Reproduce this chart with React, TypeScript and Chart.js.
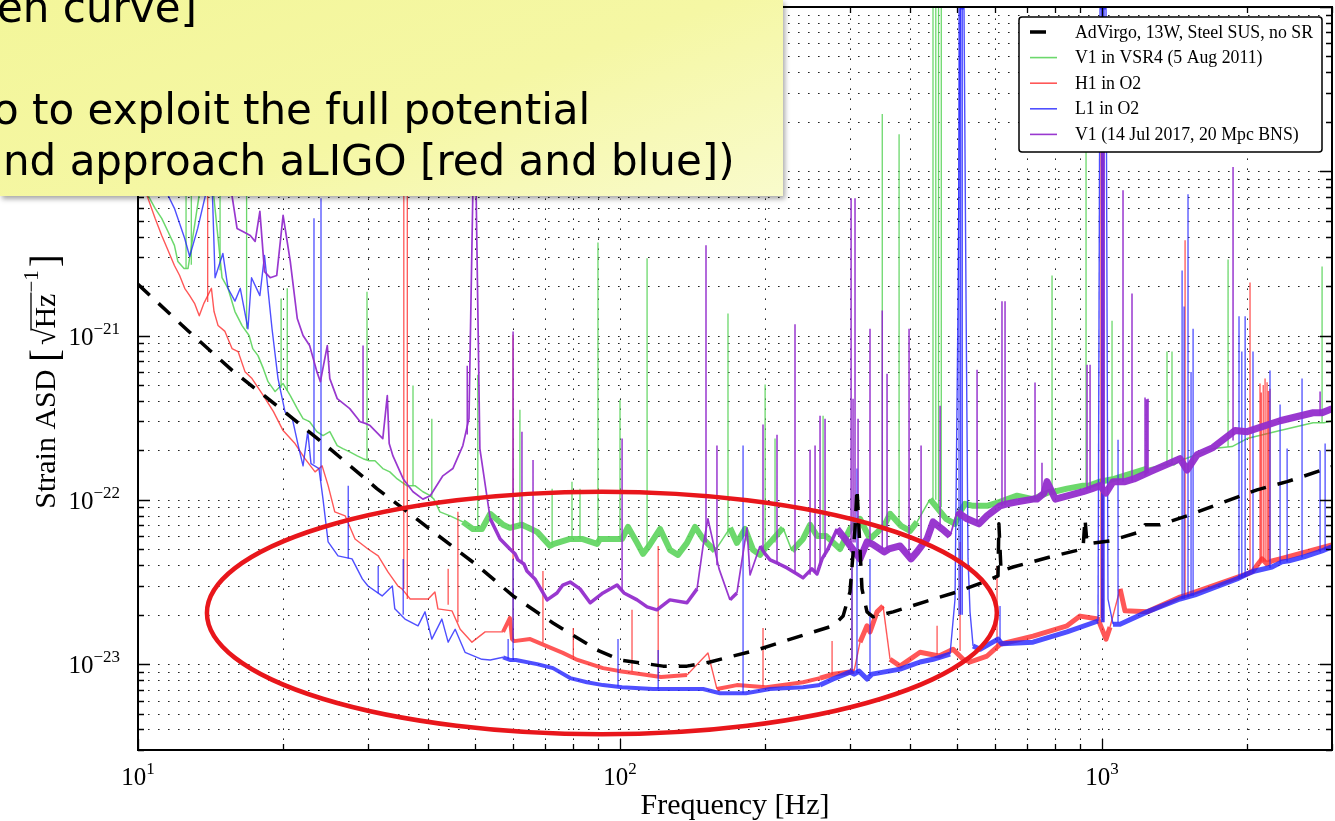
import React, { useEffect, useRef } from "react";
import { Chart, registerables } from "chart.js";

Chart.register(...registerables);

type Pt = [number, number];
type Spike = [number, number, number]; // frequency, foot, peak

// ---------- axes ----------
const freqRange: [number, number] = [10, 3000];
const asdRange: [number, number] = [3e-24, 1e-19];
const xDecades = [10, 100, 1000];
const yDecades = [1e-24, 1e-23, 1e-22, 1e-21, 1e-20, 1e-19];
const minorSteps = [1, 2, 3, 4, 5, 6, 7, 8, 9];
const xLabelValues = [10, 100, 1000];
const xLabelExps = ["1", "2", "3"];
const yLabelValues = [1e-23, 1e-22, 1e-21, 1e-20];
const yLabelExps = ["\u221223", "\u221222", "\u221221", "\u221220"];
const xTitle = "Frequency [Hz]";

// ---------- series (frequency Hz, strain ASD) ----------
const seriesLabels = [
  "AdVirgo, 13W, Steel SUS, no SR",
  "V1 in VSR4 (5 Aug 2011)",
  "H1 in O2",
  "L1 in O2",
  "V1 (14 Jul 2017, 20 Mpc BNS)",
];

const adVirgo: Pt[] = [
  [10, 2.05e-21], [12.7, 1.07e-21], [15.7, 6.12e-22], [20, 3.49e-22], [25, 2.05e-22], [31.3, 1.17e-22],
  [40, 6.75e-23], [50.7, 3.96e-23], [60, 2.6e-23], [72.6, 1.78e-23], [89.6, 1.22e-23], [100, 1.06e-23],
  [122.8, 9.72e-24], [137.7, 9.72e-24], [153.7, 1.03e-23], [192.4, 1.22e-23], [239.7, 1.5e-23],
  [276.7, 1.71e-23], [290.3, 1.96e-23], [300, 2.75e-23], [307.3, 6.65e-23], [310.2, 1.17e-22],
  [313.2, 6.65e-23], [317.7, 2.87e-23], [325.4, 2.08e-23], [334.9, 1.94e-23], [368.6, 2.08e-23],
  [433.5, 2.42e-23], [500.4, 2.75e-23], [577.4, 3.21e-23], [608.4, 3.44e-23], [611, 7.14e-23],
  [617.3, 3.69e-23], [653.8, 3.9e-23], [780, 4.49e-23], [913.2, 5.02e-23], [921.9, 7.66e-23],
  [930.9, 5.39e-23], [1039, 5.62e-23], [1199, 6.38e-23], [1228, 7.05e-23], [1319, 7.05e-23],
  [1501, 7.99e-23], [1817, 9.86e-23], [2097, 1.15e-22], [2421, 1.29e-22], [3000, 1.59e-22],
];

const v1Vsr4: Pt[] = [
  [10, 1.38e-20], [10.49, 7.14e-21], [10.85, 5.95e-21], [11.2, 5.17e-21], [11.54, 4.3e-21], [11.9, 3.54e-21],
  [12.1, 2.82e-21], [12.46, 2.56e-21], [12.7, 2.56e-21], [13.4, 7.24e-21], [14.1, 1.2e-20], [14.66, 3.9e-21],
  [14.94, 2.25e-21], [15.37, 1.94e-21], [15.89, 1.4e-21], [16.44, 1.15e-21], [17.0, 1e-21], [17.3, 8.33e-22],
  [17.74, 7.55e-22], [18.2, 6.29e-22], [18.61, 5.24e-22], [19.25, 4.56e-22], [20, 5.1e-22], [20.7, 4.31e-22],
  [21.4, 3.59e-22], [22.0, 3.12e-22], [22.7, 2.99e-22], [23.5, 2.6e-22], [24.2, 2.46e-22], [25.0, 2.6e-22],
  [25.9, 2.14e-22], [26.6, 2.05e-22], [27.5, 1.96e-22], [28.5, 1.85e-22], [29.3, 1.78e-22], [30.15, 1.73e-22],
  [31.02, 1.73e-22], [32.2, 1.55e-22], [33.3, 1.48e-22], [34.5, 1.34e-22], [36.1, 1.22e-22], [37.55, 1.22e-22],
  [39.0, 1.12e-22], [40.4, 1.06e-22], [41.1, 1.01e-22], [42.3, 8.45e-23], [44.4, 7.99e-23], [47.2, 7.34e-23],
  [49.5, 6.65e-23], [51.7, 6.65e-23], [53.8, 8.22e-23], [57.2, 7.05e-23], [59.1, 6.75e-23], [62.6, 7.05e-23],
  [67.3, 6.38e-23], [71.6, 5.24e-23], [72.95, 5.39e-23], [78.8, 5.78e-23], [80.66, 5.78e-23], [83.4, 5.78e-23],
  [89.6, 5.39e-23], [90.9, 5.78e-23], [101, 5.78e-23], [103.9, 6.84e-23], [108.5, 5.47e-23], [111.6, 4.69e-23],
  [114.9, 5.24e-23], [121.1, 6.65e-23], [126.9, 4.96e-23], [131.9, 4.62e-23], [137.7, 5.47e-23], [143.1, 6.84e-23],
  [148.7, 5.78e-23], [157.4, 4.89e-23], [169.1, 6.75e-23], [174.8, 5.47e-23], [181.7, 6.65e-23], [188.8, 4.96e-23],
  [195.2, 4.62e-23], [201.8, 5.24e-23], [217.9, 6.75e-23], [227.4, 4.89e-23], [239.7, 5.78e-23], [247.9, 7.05e-23],
  [256.3, 6.03e-23], [267.6, 6.03e-23], [286.1, 5.02e-23], [300, 6.65e-23], [314.7, 7.66e-23], [330.1, 5.78e-23],
  [353.1, 6.94e-23], [363.3, 8.22e-23], [382.8, 6.94e-23], [399.7, 6.47e-23], [413.3, 7.34e-23], [439.8, 1.01e-22],
  [474.8, 7.66e-23], [495.5, 7.14e-23], [507.6, 8.45e-23], [519.8, 9.45e-23], [540.1, 9.19e-23], [577.4, 9.19e-23],
  [614.3, 9.72e-23], [666.4, 1.06e-22], [719.2, 1.01e-22], [780, 1.12e-22], [795.2, 1.12e-22], [846.1, 1.17e-22],
  [913.2, 1.22e-22], [939.8, 1.22e-22], [990.6, 1.29e-22], [1059, 1.34e-22], [1240, 1.55e-22], [1384, 1.66e-22],
  [1411, 1.63e-22], [1451, 1.73e-22], [1699, 2.05e-22], [1861, 2.11e-22], [2000, 2.36e-22], [2341, 2.64e-22],
  [2741, 2.95e-22], [2888, 2.95e-22], [3000, 3.03e-22],
];
const v1Vsr4Lines: Spike[] = [
  [12.58, 2.56e-21, 1.38e-20], [12.9, 2.7e-21, 2e-20], [14.8, 2.5e-21, 3e-20], [16.8, 1.1e-21, 7.5e-21],
  [19.81, 4.8e-22, 1.68e-21], [20.4, 4.6e-22, 1.94e-21], [29.86, 1.75e-22, 1.85e-21], [37.2, 1.22e-22, 4.96e-22],
  [40.7, 1.03e-22, 3.12e-22], [50.7, 6.65e-23, 5.78e-22], [62.0, 6.9e-23, 3.54e-22], [72.3, 5.3e-23, 1.17e-22],
  [79.5, 5.78e-23, 1.29e-22], [82.6, 5.78e-23, 1.17e-22], [90, 5.5e-23, 3.69e-21], [100, 5.78e-23, 4.07e-22],
  [113.8, 5e-23, 2.95e-21], [167.5, 6e-23, 1.36e-21], [200, 5e-23, 5.03e-22], [209.7, 5.5e-23, 2.36e-22],
  [263.8, 6.03e-23, 3.25e-22], [350, 6.5e-23, 2.23e-20], [379.3, 7e-23, 1.68e-20], [446, 1e-22, 1e-19],
  [452, 1e-22, 1e-19], [458, 9e-23, 1e-19], [464, 9e-23, 1e-19], [787.6, 1.12e-22, 2.32e-21],
  [926.5, 1.22e-22, 7.45e-20], [1049, 1.3e-22, 1.23e-21], [1364, 1.6e-22, 7.99e-22], [1397, 1.65e-22, 7.99e-22],
  [1826, 2.1e-22, 2.9e-21], [2861, 2.95e-22, 2.63e-21],
];

const h1O2: Pt[] = [
  [10, 1.04e-20], [10.49, 6.84e-21], [10.85, 5.17e-21], [11.2, 4.07e-21], [11.5, 3.39e-21], [11.9, 2.67e-21],
  [12.2, 2.32e-21], [12.5, 1.94e-21], [12.8, 1.75e-21], [13.1, 1.57e-21], [13.4, 1.32e-21], [13.7, 1.57e-21],
  [14.2, 1.94e-21], [14.38, 1.4e-21], [14.66, 1.15e-21], [15.15, 1.06e-21], [15.67, 8.33e-22], [16.13, 7.99e-22],
  [16.67, 6.03e-22], [17.24, 5.47e-22], [18.2, 4.31e-22], [19.1, 3.44e-22], [20, 2.64e-22], [21.17, 2.2e-22],
  [22.2, 1.78e-22], [23.3, 1.48e-22], [24.1, 1.61e-22], [24.8, 1.22e-22], [25.6, 8.45e-23], [26.9, 7.99e-23],
  [28.2, 5.78e-23], [30, 5.02e-23], [31.5, 4.56e-23], [33.0, 3.64e-23], [34.6, 2.99e-23], [35.3, 2.87e-23],
  [36.7, 2.49e-23], [37.9, 2.49e-23], [40, 2.49e-23], [41.3, 2.75e-23], [41.9, 2.17e-23], [44.8, 2.11e-23],
  [46.6, 1.63e-23], [49.3, 1.36e-23], [52.5, 1.57e-23], [57.2, 1.57e-23], [59.1, 1.91e-23], [59.7, 1.42e-23],
  [60.26, 1.38e-23], [65.1, 1.42e-23], [70.25, 1.29e-23], [76.1, 1.17e-23], [81.04, 1.07e-23], [92.2, 9.45e-24],
  [100, 9.06e-24], [107.4, 8.81e-24], [121.6, 8.34e-24], [137.7, 8.57e-24], [152.2, 1.17e-23], [158.9, 7.05e-24],
  [174.8, 7.45e-24], [200.9, 7.24e-24], [239.7, 7.76e-24], [260, 8.22e-24], [277.9, 8.69e-24], [300, 8.94e-24],
  [305.9, 9.06e-24], [314.7, 1.36e-23], [325.4, 1.71e-23], [330.1, 1.57e-23], [341.4, 2.08e-23], [351.3, 2.26e-23],
  [363.3, 1.07e-23], [381.1, 9.72e-24], [419.3, 1.18e-23], [459.1, 1.12e-23], [490.9, 1.23e-23], [514.9, 1.07e-23],
  [532.3, 1.03e-23], [577.4, 1.12e-23], [614.3, 1.32e-23], [719.2, 1.48e-23], [846.1, 1.71e-23], [900.3, 1.96e-23],
  [981.1, 1.88e-23], [1019.3, 1.42e-23], [1039, 1.68e-23], [1090, 2.87e-23], [1116, 2.11e-23], [1240, 2.08e-23],
  [1451, 2.56e-23], [1501, 2.64e-23], [2000, 3.54e-23], [2057, 3.69e-23], [2107, 4.07e-23], [2148, 4.37e-23],
  [2199, 4.07e-23], [2252, 4.25e-23], [2341, 4.37e-23], [3000, 5.31e-23],
];
const h1O2Lines: Spike[] = [
  [13.95, 1.6e-21, 3e-20], [35.6, 2.87e-23, 4.88e-20], [36.2, 2.49e-23, 4.88e-20], [44.0, 2.3e-23, 3.8e-23],
  [46.1, 1.8e-23, 8.45e-23], [60, 1.42e-23, 1.01e-21], [69.2, 1.35e-23, 3.69e-23], [80, 1.1e-23, 1.66e-23],
  [105.9, 9e-24, 2.14e-23], [120, 8.5e-24, 5.24e-23], [198, 7.3e-24, 1.66e-23], [275.4, 8.6e-24, 1.38e-23],
  [302.9, 9e-24, 3.96e-23], [454.8, 1.15e-23, 1.71e-23], [507.6, 1.2e-23, 5.54e-23], [605.6, 1.2e-23, 3.96e-23],
  [995, 1.9e-23, 8.57e-20], [1000, 1.9e-23, 8.57e-20], [1005, 1.8e-23, 8.57e-20], [1487, 2.6e-23, 3.8e-21],
  [2028, 3.6e-23, 2.1e-21], [2127, 4.1e-23, 5.1e-22], [2140, 4.2e-23, 4.5e-22], [2160, 4.2e-23, 5e-22],
  [2179, 4.2e-23, 5.47e-22], [2200, 4.2e-23, 5.2e-22], [2215, 4.2e-23, 4.6e-22], [2231, 4.2e-23, 4.75e-22],
];

const l1O2: Pt[] = [
  [11.1, 1.38e-20], [11.54, 7.14e-21], [11.9, 5.95e-21], [12.5, 3.9e-21], [12.8, 3.03e-21], [13.3, 4.49e-21],
  [13.8, 7.14e-21], [13.9, 1.38e-20], [14.17, 1.38e-20], [14.45, 2.25e-21], [15, 3.16e-21], [15.37, 1.94e-21],
  [15.89, 1.62e-21], [16.3, 1.94e-21], [16.91, 1.1e-21], [17.2, 2.25e-21], [17.9, 1.75e-21], [18.3, 3.07e-21],
  [18.97, 1.1e-21], [19.52, 5.47e-22], [20.18, 3.44e-22], [20.9, 3.12e-22], [21.5, 2.14e-22], [22.0, 1.61e-22],
  [22.5, 2.6e-22], [22.85, 1.66e-22], [23.74, 1.55e-22], [24.2, 1.01e-22], [24.8, 5.54e-23], [26.0, 4.56e-23],
  [27.8, 4.37e-23], [29.2, 3.3e-23], [30, 2.99e-23], [32.1, 2.6e-23], [33.7, 2.99e-23], [34.1, 2.17e-23],
  [35.8, 1.88e-23], [38.1, 1.71e-23], [39.4, 2.08e-23], [40.7, 1.42e-23], [42.7, 1.88e-23], [44.0, 1.36e-23],
  [45.5, 1.63e-23], [47.7, 1.18e-23], [51.7, 1.07e-23], [53.8, 1.06e-23], [57.2, 1.1e-23], [59.1, 1.06e-23],
  [60.83, 1.06e-23], [67.3, 1e-23], [72.6, 9.45e-24], [78.8, 8.22e-24], [85.4, 7.76e-24], [92.2, 7.45e-24],
  [101, 7.24e-24], [117.1, 7.05e-24], [121.6, 7.05e-24], [148.7, 7.05e-24], [161.2, 6.65e-24], [182.5, 6.65e-24],
  [204.8, 7.05e-24], [239.7, 7.24e-24], [260, 7.45e-24], [276.7, 8.11e-24], [300, 8.94e-24], [305.9, 8.69e-24],
  [313.2, 9.06e-24], [325.4, 8.11e-24], [333.3, 8.69e-24], [381.1, 9.32e-24], [419.3, 1.03e-23], [446.2, 1.07e-23],
  [483.9, 1.15e-23], [495.5, 2.49e-23], [502.8, 1.68e-21], [507.6, 1e-19], [517.2, 1e-19], [522.2, 1.68e-21],
  [527.2, 4.37e-23], [532.3, 2.08e-23], [540.1, 1.29e-23], [558.4, 1.23e-23], [608.4, 1.42e-23], [620.1, 1.33e-23],
  [719.2, 1.36e-23], [846.1, 1.57e-23], [981.1, 1.83e-23], [990.6, 1e-19], [1019.3, 1e-19], [1029, 2.49e-23],
  [1054, 1.75e-23], [1089.8, 1.75e-23], [1240, 2.08e-23], [1451, 2.49e-23], [1559, 2.64e-23], [1905, 3.3e-23],
  [2000, 3.54e-23], [2077, 3.69e-23], [2252, 3.9e-23], [2363, 4.19e-23], [2443, 4.25e-23], [2624, 4.49e-23],
  [2861, 4.89e-23], [3000, 5.17e-23],
];
const l1O2Lines: Spike[] = [
  [23.18, 1.66e-22, 5.17e-21], [23.97, 1.3e-22, 6.84e-21], [27.3, 4.4e-23, 1.22e-22], [31.5, 2.7e-23, 3.96e-23],
  [35.5, 2e-23, 4.37e-23], [58.6, 1.07e-23, 1.42e-23], [60, 1.06e-23, 4.37e-23], [99.05, 7.3e-24, 1.42e-23],
  [120, 7.05e-24, 1.22e-23], [180, 6.65e-24, 2.14e-22], [302.9, 8.9e-24, 4.37e-23], [310.2, 8.8e-24, 1.55e-22],
  [330.1, 8.5e-24, 4.37e-23], [505, 2e-23, 1e-19], [509, 2e-23, 1e-19], [513, 2e-23, 1e-19],
  [614.3, 1.4e-23, 2.26e-23], [998, 1.8e-23, 1e-19], [1004, 1.8e-23, 1e-19], [1010, 1.8e-23, 1e-19],
  [1079.5, 1.8e-23, 2.32e-22], [1466, 2.5e-23, 2.49e-21], [1480, 2.5e-23, 1.5e-21], [1508, 2.55e-23, 7.24e-21],
  [1530, 2.6e-23, 6e-22], [1545, 2.6e-23, 1.1e-21], [1924, 3.3e-23, 1.31e-21], [1950, 3.35e-23, 8e-22],
  [1981, 3.4e-23, 1.31e-21], [2057, 3.6e-23, 7.99e-22], [2231, 3.85e-23, 6.12e-22], [2341, 4.1e-23, 3.8e-22],
  [2421, 4.2e-23, 2.05e-22], [2600, 4.45e-23, 5.47e-22], [2834, 4.8e-23, 2e-22], [2903, 4.9e-23, 2.2e-22],
];

const v1Jul2017: Pt[] = [
  [13.4, 4.88e-20], [15.15, 1.38e-20], [15.7, 6.84e-21], [16.05, 4.49e-21], [16.5, 4.3e-21], [17.1, 4.07e-21],
  [17.5, 3.74e-21], [17.9, 5.7e-21], [18.3, 2.45e-21], [18.8, 2.25e-21], [19.4, 2.32e-21], [20, 5.39e-21],
  [20.7, 2.82e-21], [21.4, 1.27e-21], [22.0, 1e-21], [22.7, 8.69e-22], [23.5, 6.03e-22], [23.9, 5.24e-22],
  [24.7, 8.69e-22], [25.0, 5.47e-22], [25.9, 4.13e-22], [27.5, 3.59e-22], [28.9, 2.99e-22], [29.72, 2.91e-22],
  [30.3, 2.83e-22], [32.2, 2.36e-22], [32.9, 4.31e-22], [33.2, 2.2e-22], [33.8, 1.85e-22], [35.5, 1.34e-22],
  [37.2, 1.12e-22], [39.0, 1.01e-22], [40.4, 1.06e-22], [42.9, 1.4e-22], [45.0, 1.55e-22], [47.2, 2.14e-22],
  [48.6, 3.12e-22], [49.5, 7.14e-21], [49.8, 4.88e-20], [50.3, 7.14e-21], [51.2, 2.05e-22], [53.8, 7.66e-23],
  [56.4, 5.78e-23], [59.1, 5.02e-23], [60.55, 4.69e-23], [61.4, 4.31e-23], [63.2, 4.07e-23], [64.1, 3.69e-23],
  [66.6, 3.3e-23], [70.6, 2.46e-23], [74.0, 2.71e-23], [76.1, 3.03e-23], [78.8, 3.16e-23], [82.6, 2.87e-23],
  [86.7, 2.36e-23], [92.2, 2.71e-23], [98.6, 3.03e-23], [101.9, 2.71e-23], [108.5, 2.46e-23], [113.8, 2.23e-23],
  [119.3, 2.14e-23], [126.9, 2.46e-23], [137.7, 2.36e-23], [144.5, 2.87e-23], [148.7, 5.24e-23], [152.2, 7.66e-23],
  [160.5, 3.8e-23], [169.1, 2.46e-23], [174.8, 2.71e-23], [183.4, 6.75e-23], [186.1, 3.49e-23], [195.2, 5.24e-23],
  [200, 4.69e-23], [204.8, 4.31e-23], [213.8, 4.07e-23], [222.1, 3.85e-23], [232.9, 3.54e-23], [239.7, 3.35e-23],
  [250, 3.8e-23], [256.3, 3.54e-23], [262.5, 4.37e-23], [270.1, 5.02e-23], [282.1, 6.65e-23], [293.1, 5.78e-23],
  [314.7, 4.37e-23], [325.4, 5.54e-23], [333.3, 5.39e-23], [353.1, 4.82e-23], [361.4, 5.02e-23], [381.1, 5.24e-23],
  [401.6, 4.37e-23], [413.3, 4.82e-23], [425.3, 5.39e-23], [433.5, 5.78e-23], [446.2, 7.34e-23], [465.6, 6.65e-23],
  [483.9, 6.03e-23], [500.4, 8.45e-23], [524.8, 7.66e-23], [555.6, 7.14e-23], [577.4, 7.99e-23], [614.3, 9.19e-23],
  [635.3, 9.45e-23], [666.4, 9.72e-23], [719.2, 1.01e-22], [733.1, 1.01e-22], [758.2, 1.1e-22], [769, 1.29e-22],
  [800, 1.01e-22], [913.2, 1.12e-22], [953.5, 1.17e-22], [990.6, 1.22e-22], [1019.3, 1.1e-22], [1054, 1.29e-22],
  [1116, 1.29e-22], [1165, 1.34e-22], [1270, 1.5e-22], [1451, 1.78e-22], [1501, 1.52e-22], [1575, 1.88e-22],
  [1699, 2.08e-22], [1888, 2.64e-22], [2000, 2.6e-22], [2341, 3.03e-22], [2741, 3.39e-22], [2861, 3.39e-22],
  [3000, 3.59e-22],
];
const v1Jul2017Lines: Spike[] = [
  [29.3, 2.95e-22, 8.69e-22], [48.2, 2.5e-22, 6.56e-22], [60, 5e-23, 1.06e-21], [62.6, 4.2e-23, 2.6e-22],
  [66.0, 3.5e-23, 1.75e-22], [101, 2.8e-23, 2.36e-22], [150.8, 5.5e-23, 3.54e-21], [158.9, 4e-23, 2.14e-22],
  [198, 5e-23, 2.87e-22], [211.7, 4.1e-23, 2.49e-22], [230.7, 3.6e-23, 1.17e-21], [247.9, 3.5e-23, 2.02e-22],
  [253.9, 3.6e-23, 2.14e-22], [260, 4e-23, 3.25e-22], [266.3, 4.5e-23, 3.12e-22], [301.6, 5.5e-23, 6.84e-21],
  [304.4, 5.5e-23, 4.13e-22], [307.3, 5.5e-23, 6.84e-21], [311.8, 5e-23, 3.12e-22], [330.1, 5.4e-23, 1.1e-21],
  [350, 5e-23, 1.42e-21], [358.1, 5e-23, 5.86e-22], [397.8, 4.6e-23, 1.1e-21], [421.3, 5.2e-23, 2.14e-22],
  [461.4, 6.8e-23, 3.74e-22], [550.5, 7.2e-23, 6.2e-22], [620.1, 9.2e-23, 1.62e-21], [629.2, 9.3e-23, 1.62e-21],
  [726.1, 1.01e-22, 5.17e-22], [750.7, 1.05e-22, 1.68e-22], [930.9, 1.15e-22, 6.65e-22], [944.5, 1.15e-22, 6.65e-22],
  [1000, 1.2e-22, 2.79e-20], [1009.5, 1.15e-22, 2.79e-20], [1105.5, 1.29e-22, 7.66e-21], [1154, 1.3e-22, 1.8e-21],
  [1228, 1.4e-22, 4.19e-22], [1237, 1.42e-22, 4.1e-22], [1246, 1.45e-22, 4.13e-22], [1870, 2.3e-22, 1.06e-20],
  [2834, 3.3e-22, 4.56e-22],
];

// ---------- annotations ----------
const highlightEllipse = { fMin: 13.9, fMax: 605, asdMin: 3.74e-24, asdMax: 1.12e-22 };
const noteLines = ["en curve]", "o to exploit the full potential", "nd approach aLIGO [red and blue])"];

// ---------- styling ----------
const SERIF = '"Liberation Serif", "Times New Roman", serif';

const toXY = (arr: Pt[]) => arr.map(([x, y]) => ({ x, y }));
const spikesToXY = (arr: Spike[]) =>
  arr.flatMap(([f, lo, hi]) => [{ x: f, y: lo }, { x: f, y: hi }, { x: f, y: null as any }]);
const flat = (c: any) => Math.abs(c.p1.y - c.p0.y) < 22;

function gridValues(decades: number[], lo: number, hi: number) {
  const out: { v: number; major: boolean }[] = [];
  decades.forEach((d) =>
    minorSteps.forEach((m) => {
      const v = d * m;
      if (v >= lo * 0.999 && v <= hi * 1.001) out.push({ v, major: m === 1 });
    })
  );
  return out;
}

function wText(ctx: CanvasRenderingContext2D, s: string, font: string) {
  ctx.font = font;
  return ctx.measureText(s).width;
}
function dText(ctx: CanvasRenderingContext2D, s: string, x: number, y: number, font: string, baseline: CanvasTextBaseline = "alphabetic") {
  ctx.save();
  ctx.font = font;
  ctx.fillStyle = "#000";
  ctx.textAlign = "left";
  ctx.textBaseline = baseline;
  ctx.fillText(s, x, y);
  ctx.restore();
}

const framePlugin = {
  id: "frameDecor",
  beforeDatasetsDraw(chart: any) {
    const { ctx, chartArea: a, scales } = chart;
    const xs = scales.x, ys = scales.y;
    ctx.save();
    ctx.strokeStyle = "#222";
    ctx.lineWidth = 1;
    ctx.setLineDash([1.6, 8.4]);
    for (const g of gridValues(xDecades, freqRange[0], freqRange[1])) {
      const px = Math.round(xs.getPixelForValue(g.v)) + 0.5;
      if (px <= a.left + 2 || px >= a.right - 2) continue;
      ctx.beginPath();
      ctx.moveTo(px, a.bottom);
      ctx.lineTo(px, a.top);
      ctx.stroke();
    }
    for (const g of gridValues(yDecades, asdRange[0], asdRange[1])) {
      const py = Math.round(ys.getPixelForValue(g.v)) + 0.5;
      if (py <= a.top + 2 || py >= a.bottom - 2) continue;
      ctx.beginPath();
      ctx.moveTo(a.left, py);
      ctx.lineTo(a.right, py);
      ctx.stroke();
    }
    ctx.restore();
  },
  afterDatasetsDraw(chart: any) {
    const { ctx, chartArea: a, scales } = chart;
    const xs = scales.x, ys = scales.y;

    // highlight ellipse
    const ex0 = xs.getPixelForValue(highlightEllipse.fMin);
    const ex1 = xs.getPixelForValue(highlightEllipse.fMax);
    const ey0 = ys.getPixelForValue(highlightEllipse.asdMax);
    const ey1 = ys.getPixelForValue(highlightEllipse.asdMin);
    ctx.save();
    ctx.strokeStyle = "#e8161b";
    ctx.lineWidth = 4.5;
    ctx.beginPath();
    ctx.ellipse((ex0 + ex1) / 2, (ey0 + ey1) / 2, (ex1 - ex0) / 2, (ey1 - ey0) / 2, 0, 0, Math.PI * 2);
    ctx.stroke();
    ctx.restore();

    // frame + inward ticks
    ctx.save();
    ctx.strokeStyle = "#000";
    ctx.lineWidth = 2;
    ctx.strokeRect(a.left, a.top, a.right - a.left, a.bottom - a.top);
    ctx.lineWidth = 1.3;
    for (const g of gridValues(xDecades, freqRange[0], freqRange[1])) {
      const px = Math.round(xs.getPixelForValue(g.v)) + 0.5;
      const len = g.major ? 11 : 6;
      ctx.beginPath();
      ctx.moveTo(px, a.bottom); ctx.lineTo(px, a.bottom - len);
      ctx.moveTo(px, a.top); ctx.lineTo(px, a.top + len);
      ctx.stroke();
    }
    for (const g of gridValues(yDecades, asdRange[0], asdRange[1])) {
      const py = Math.round(ys.getPixelForValue(g.v)) + 0.5;
      const len = g.major ? 12 : 6;
      ctx.beginPath();
      ctx.moveTo(a.left, py); ctx.lineTo(a.left + len, py);
      ctx.moveTo(a.right, py); ctx.lineTo(a.right - len, py);
      ctx.stroke();
    }
    ctx.restore();

    // tick labels
    const fBase = `25px ${SERIF}`;
    const fSup = `17px ${SERIF}`;
    xLabelValues.forEach((v, i) => {
      const px = xs.getPixelForValue(v);
      const w1 = wText(ctx, "10", fBase);
      const w2 = wText(ctx, xLabelExps[i], fSup);
      const x0 = px - (w1 + w2) / 2;
      dText(ctx, "10", x0, a.bottom + 35, fBase);
      dText(ctx, xLabelExps[i], x0 + w1, a.bottom + 24, fSup);
    });
    yLabelValues.forEach((v, i) => {
      const py = ys.getPixelForValue(v);
      const w1 = wText(ctx, "10", fBase);
      const w2 = wText(ctx, yLabelExps[i], fSup);
      const xr = a.left - 18;
      dText(ctx, "10", xr - w2 - w1, py + 9, fBase);
      dText(ctx, yLabelExps[i], xr - w2, py - 2, fSup);
    });

    // x title
    const fTitle = `30px ${SERIF}`;
    const tw = wText(ctx, xTitle, fTitle);
    dText(ctx, xTitle, (a.left + a.right) / 2 - tw / 2, a.bottom + 64, fTitle);

    // y title: Strain ASD [ sqrt(Hz)^-1 ]
    ctx.save();
    ctx.translate(45, (a.top + a.bottom) / 2 + 3);
    ctx.rotate(-Math.PI / 2);
    ctx.fillStyle = "#000";
    ctx.strokeStyle = "#000";
    const f = `30px ${SERIF}`, fb = `39px ${SERIF}`, fs = `21px ${SERIF}`;
    const m = (s: string, ff: string) => { ctx.font = ff; return ctx.measureText(s).width; };
    const w1 = m("Strain ASD ", f), wb = m("[", fb), wr = m("\u221A", f), wh = m("Hz", f), we = m("\u22121", fs), wb2 = m("]", fb);
    const gap = 4;
    const total = w1 + wb + gap + wr + wh + we + gap + wb2;
    let x = -total / 2;
    const base = 10;
    ctx.textBaseline = "alphabetic";
    ctx.font = f; ctx.fillText("Strain ASD ", x, base); x += w1;
    ctx.font = fb; ctx.fillText("[", x, base + 3); x += wb + gap;
    ctx.font = f; ctx.fillText("\u221A", x, base); x += wr;
    const olStart = x - 2;
    ctx.fillText("Hz", x, base); x += wh;
    ctx.lineWidth = 1.3;
    ctx.beginPath(); ctx.moveTo(olStart, base - 24); ctx.lineTo(x + 1, base - 24); ctx.stroke();
    ctx.font = fs; ctx.fillText("\u22121", x + 1, base - 17); x += we + gap;
    ctx.font = fb; ctx.fillText("]", x, base + 3);
    ctx.restore();

    // legend
    const lw = 303, lh = 135;
    const lx = a.right - 10 - lw, ly = a.top + 10;
    ctx.save();
    ctx.fillStyle = "#fff";
    ctx.strokeStyle = "#000";
    ctx.lineWidth = 1.5;
    ctx.beginPath();
    (ctx as any).roundRect ? (ctx as any).roundRect(lx, ly, lw, lh, 3) : ctx.rect(lx, ly, lw, lh);
    ctx.fill();
    ctx.stroke();
    const ds = chart.data.datasets.filter((d: any) => d.inLegend);
    ds.forEach((d: any, i: number) => {
      const ry = ly + 15 + i * 25.6;
      ctx.save();
      ctx.strokeStyle = d.borderColor;
      ctx.lineWidth = d.borderDash ? 3.5 : 1.6;
      ctx.setLineDash(d.borderDash || []);
      ctx.beginPath();
      ctx.moveTo(lx + 11, ry);
      ctx.lineTo(lx + 38, ry);
      ctx.stroke();
      ctx.restore();
      dText(ctx, d.label, lx + 56, ry + 1, `17.8px ${SERIF}`, "middle");
    });
    ctx.restore();
  },
};

const GREEN = "rgba(92,212,92,0.9)";
const RED = "rgba(255,45,45,0.8)";
const BLUE = "rgba(35,35,255,0.8)";
const PURPLE = "rgba(148,45,204,0.95)";

export default function App() {
  const ref = useRef<HTMLCanvasElement | null>(null);

  useEffect(() => {
    if (!ref.current) return;
    const lineSet = (label: string, color: string, data: any[], order: number, extra: any = {}) => ({
      label,
      data,
      borderColor: color,
      borderWidth: 1.3,
      pointRadius: 0,
      spanGaps: false,
      order,
      ...extra,
    });
    const detectorWidth = (c: any) => {
      const f = c.p0.parsed.x;
      if (!flat(c)) return 1.4;
      return f >= 250 ? 5 : f >= 55 ? 4 : 1.4;
    };
    const chart = new Chart(ref.current, {
      type: "line",
      data: {
        datasets: [
          lineSet(seriesLabels[0], "#000", toXY(adVirgo), 0, { borderWidth: 3.5, borderDash: [16, 12], inLegend: true }),
          lineSet(seriesLabels[1], GREEN, toXY(v1Vsr4), 8, {
            inLegend: true,
            segment: { borderWidth: (c: any) => (c.p0.parsed.x >= 45 && c.p0.parsed.x < 1100 && flat(c) ? 6 : 1.5) },
          }),
          lineSet(seriesLabels[2], RED, toXY(h1O2), 6, { inLegend: true, segment: { borderWidth: detectorWidth } }),
          lineSet(seriesLabels[3], BLUE, toXY(l1O2), 4, { inLegend: true, segment: { borderWidth: detectorWidth } }),
          lineSet(seriesLabels[4], PURPLE, toXY(v1Jul2017), 2, {
            inLegend: true,
            borderWidth: 1.6,
            segment: {
              borderWidth: (c: any) =>
                c.p0.parsed.x >= 280 && flat(c) ? 7 : c.p0.parsed.x >= 50 && flat(c) ? 3.5 : 1.7,
            },
          }),
          lineSet(seriesLabels[1] + " lines", GREEN, spikesToXY(v1Vsr4Lines), 7),
          lineSet(seriesLabels[2] + " lines", RED, spikesToXY(h1O2Lines), 5),
          lineSet(seriesLabels[3] + " lines", BLUE, spikesToXY(l1O2Lines), 3),
          lineSet(seriesLabels[4] + " lines", PURPLE, spikesToXY(v1Jul2017Lines), 1, { borderWidth: 1.5 }),
        ] as any,
      },
      options: {
        animation: false,
        responsive: false,
        devicePixelRatio: 1,
        layout: { padding: { top: 7, right: 3, left: 0, bottom: 0 } },
        plugins: { legend: { display: false }, tooltip: { enabled: false } },
        elements: { line: { tension: 0, borderJoinStyle: "round" } },
        scales: {
          x: {
            type: "logarithmic",
            min: freqRange[0],
            max: freqRange[1],
            ticks: { display: false },
            grid: { display: false },
            border: { display: false },
            afterFit: (s: any) => { s.height = 71; },
          },
          y: {
            type: "logarithmic",
            min: asdRange[0],
            max: asdRange[1],
            ticks: { display: false },
            grid: { display: false },
            border: { display: false },
            afterFit: (s: any) => { s.width = 138; },
          },
        },
      } as any,
      plugins: [framePlugin as any],
    });
    return () => chart.destroy();
  }, []);

  const lineTops = [-13.5, 88.5, 139.5];
  const lineLefts = [-3, -7, 3];

  return (
    <div style={{ position: "fixed", left: 0, top: 0, width: 1335, height: 821, background: "#fff", overflow: "hidden" }}>
      <canvas ref={ref} width={1335} height={821} style={{ display: "block", width: 1335, height: 821 }} />
      <div
        style={{
          position: "absolute",
          left: 0,
          top: 0,
          width: 783,
          height: 196,
          background: "linear-gradient(160deg, #f3f69a 0%, #f5f7a4 55%, #f9fbcc 100%)",
          boxShadow: "2px 3px 5px rgba(0,0,0,0.35)",
          overflow: "hidden",
          fontFamily: '"DejaVu Sans", Verdana, sans-serif',
          fontSize: 42,
          color: "#000",
        }}
      >
        {noteLines.map((t, i) => (
          <div key={i} style={{ position: "absolute", left: lineLefts[i], top: lineTops[i], lineHeight: "42px", whiteSpace: "pre" }}>
            {t}
          </div>
        ))}
      </div>
    </div>
  );
}
